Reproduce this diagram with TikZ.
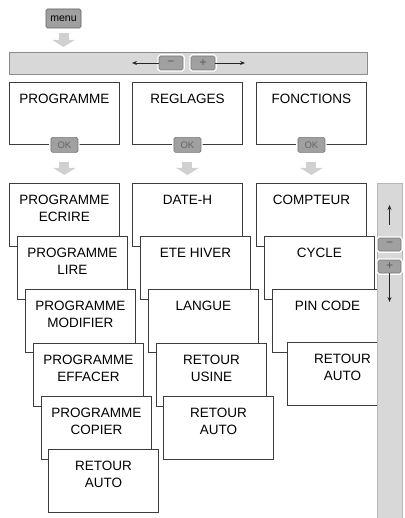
\documentclass[tikz,border=0pt]{standalone}
\usepackage{fontspec}
\setmainfont{Liberation Sans}
\usetikzlibrary{arrows.meta,positioning}

\definecolor{boxline}{HTML}{3C3C3C}
\definecolor{btnfill}{HTML}{A0A0A0}
\definecolor{btnline}{HTML}{787878}
\definecolor{barfill}{HTML}{D8D8D8}
\definecolor{barline}{HTML}{8C8C8C}
\definecolor{arrowfill}{HTML}{D0D0D0}

\begin{document}
\begin{tikzpicture}[x=1pt, y=-1pt,
    every node/.style={font=\fontsize{13.5}{17}\selectfont},
    menubox/.style={draw=boxline, line width=0.9pt, fill=white, anchor=north west,
        minimum width=110pt, minimum height=63pt, inner sep=0pt},
    boxtext/.style={anchor=north, yshift=-12pt, inner sep=0pt, align=center},
    btn/.style={fill=btnfill, draw=btnline, line width=0.6pt, rounded corners=1.5pt,
        inner sep=0pt, preaction={draw=white, line width=3.5pt}},
    okbtn/.style={btn, minimum width=27pt, minimum height=15pt,
        font=\fontsize{9.5}{10}\selectfont, text=black!60},
    smallbtn/.style={btn, minimum width=23pt, minimum height=13pt,
        font=\fontsize{12}{12}\selectfont, text=black!65},
    blockarrow/.style={arrowfill, line width=10pt, -{Triangle[width=22pt,length=7pt]}},
    thinarrow/.style={-{Stealth[length=5pt,width=4pt]}, line width=0.7pt, black!85}]

    \useasboundingbox (0,0) rectangle (404,518);

    % menu key and bar with - / + keys
    \node[btn, draw=btnline!80!black, minimum width=35pt, minimum height=19pt,
        font=\fontsize{10.5}{12}\selectfont] (menu) at (63.5,18.5) {menu};
    \node[fill=barfill, draw=barline, line width=0.8pt, anchor=north west,
        minimum width=358pt, minimum height=22pt] (bar) at (9,52) {};
    \node[smallbtn, minimum width=24pt, minimum height=14pt] (minus) at (171,63) {−};
    \node[smallbtn, minimum width=24pt, minimum height=14pt] (plus) at (203,63) {+};
    \coordinate (leftend) at (132,63);
    \coordinate (rightend) at (245,63);
    \draw[thinarrow] (minus.west) -- (leftend);
    \draw[thinarrow] (plus.east) -- (rightend);
    \draw[blockarrow, shorten <=5pt, shorten >=5pt] (menu.south) -- (menu.south |- bar.north);

    % main menus
    \node[menubox, minimum height=62pt, label={[boxtext]north:PROGRAMME}] (programme) at (9,82) {};
    \node[menubox, minimum height=62pt, label={[boxtext]north:REGLAGES}] (reglages) at (132,82) {};
    \node[menubox, minimum height=62pt, label={[boxtext]north:FONCTIONS}] (fonctions) at (256,82) {};
    \node[okbtn] (okA) at (programme.south) {OK};
    \node[okbtn] (okB) at (reglages.south) {OK};
    \node[okbtn] (okC) at (fonctions.south) {OK};

    % PROGRAMME column
    \node[menubox, label={[boxtext]north:PROGRAMME\\ECRIRE}] (ecrire) at (9,183) {};
    \node[menubox, label={[boxtext]north:PROGRAMME\\LIRE}] (lire) at (17,236) {};
    \node[menubox, label={[boxtext]north:PROGRAMME\\MODIFIER}] (modifier) at (25,289) {};
    \node[menubox, label={[boxtext]north:PROGRAMME\\EFFACER}] (effacer) at (33,343) {};
    \node[menubox, label={[boxtext]north:PROGRAMME\\COPIER}] (copier) at (41,396) {};
    \node[menubox, label={[boxtext]north:RETOUR\\AUTO}] (autoA) at (48,449) {};

    % REGLAGES column
    \node[menubox, label={[boxtext]north:DATE-H}] (dateh) at (132,183) {};
    \node[menubox, label={[boxtext]north:ETE HIVER}] (etehiver) at (140,236) {};
    \node[menubox, label={[boxtext]north:LANGUE}] (langue) at (148,289) {};
    \node[menubox, label={[boxtext]north:RETOUR\\USINE}] (usine) at (156,343) {};
    \node[menubox, label={[boxtext]north:RETOUR\\AUTO}] (autoB) at (163,396) {};

    % FONCTIONS column
    \node[menubox, label={[boxtext]north:COMPTEUR}] (compteur) at (256,183) {};
    \node[menubox, label={[boxtext]north:CYCLE}] (cycle) at (264,236) {};
    \node[menubox, label={[boxtext]north:PIN CODE}] (pincode) at (272,289) {};
    \node[menubox, label={[boxtext]north:RETOUR\\AUTO}] (autoC) at (287,342) {};

    \draw[blockarrow, shorten <=9pt, shorten >=8pt] (okA.south) -- (ecrire.north);
    \draw[blockarrow, shorten <=9pt, shorten >=8pt] (okB.south) -- (dateh.north);
    \draw[blockarrow, shorten <=9pt, shorten >=8pt] (okC.south) -- (okC.south |- compteur.north);

    % scroll bar
    \node[fill=barfill, draw=barfill!85!black, line width=0.6pt, anchor=north west,
        minimum width=25pt, minimum height=336pt] (scroll) at (377,183) {};
    \node[smallbtn] (up) at (389.5,244.5) {−};
    \node[smallbtn] (down) at (389.5,266.5) {+};
    \coordinate (uptop) at (389.5,205);
    \coordinate (downend) at (389.5,302);
    \draw[thinarrow] ([yshift=13pt]up.north) -- (uptop);
    \draw[thinarrow] (down.south) -- (downend);
\end{tikzpicture}
\end{document}
